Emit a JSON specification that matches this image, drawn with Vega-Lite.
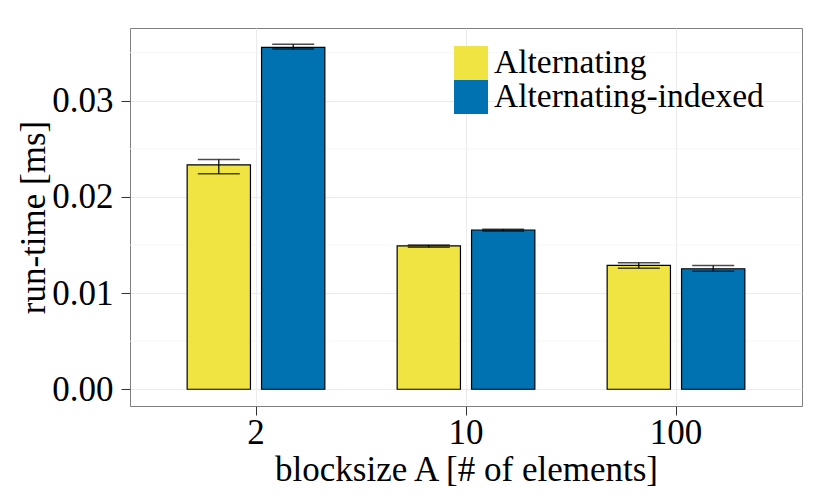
{
  "$schema": "https://vega.github.io/schema/vega-lite/v6.json",
  "autosize": {"type": "none"},
  "padding": {"left": 130, "top": 28, "right": 28, "bottom": 92},
  "width": 672,
  "height": 378,
  "config": {
    "font": "Liberation Serif",
    "view": {"stroke": "#7f7f7f", "strokeWidth": 1},
    "axis": {
      "labelFont": "Liberation Serif",
      "titleFont": "Liberation Serif",
      "labelColor": "black",
      "titleColor": "black",
      "labelFontSize": 35,
      "titleFontSize": 35,
      "titleFontWeight": "normal",
      "tickColor": "#333333",
      "tickSize": 9,
      "tickWidth": 1,
      "domain": false,
      "gridColor": "#ebebeb",
      "gridWidth": 1
    },
    "legend": {
      "labelFont": "Liberation Serif",
      "labelFontSize": 33.5,
      "labelColor": "black",
      "labelLimit": 0
    }
  },
  "datasets": {
    "bars": [
      {"block": "2", "series": "Alternating", "mean": 0.02333, "lo": 0.02240, "hi": 0.02389},
      {"block": "2", "series": "Alternating-indexed", "mean": 0.03555, "lo": 0.03538, "hi": 0.03586},
      {"block": "10", "series": "Alternating", "mean": 0.01490, "lo": 0.01476, "hi": 0.01500},
      {"block": "10", "series": "Alternating-indexed", "mean": 0.01656, "lo": 0.01646, "hi": 0.01663},
      {"block": "100", "series": "Alternating", "mean": 0.01288, "lo": 0.01257, "hi": 0.01316},
      {"block": "100", "series": "Alternating-indexed", "mean": 0.01253, "lo": 0.01226, "hi": 0.01288}
    ],
    "minor": [{"v": 0.005}, {"v": 0.015}, {"v": 0.025}, {"v": 0.035}]
  },
  "layer": [
    {
      "data": {"name": "minor"},
      "mark": {"type": "rule", "color": "#f4f4f4", "strokeWidth": 0.8},
      "encoding": {
        "y": {"field": "v", "type": "quantitative", "scale": {"domain": [-0.00174, 0.03756], "nice": false, "zero": false}}
      }
    },
    {
      "data": {"name": "bars"},
      "layer": [
        {
          "mark": {"type": "bar", "stroke": "black", "strokeWidth": 1.2},
          "encoding": {
            "x": {"field": "block", "type": "nominal", "sort": ["2", "10", "100"],
                  "scale": {"paddingInner": 0, "paddingOuter": 0.1},
                  "axis": {"title": "blocksize A [# of elements]", "labelAngle": 0, "grid": true, "labelPadding": 0, "titlePadding": 2}},
            "xOffset": {"field": "series", "type": "nominal", "sort": ["Alternating", "Alternating-indexed"],
                        "scale": {"paddingInner": 0.149, "paddingOuter": 0.486}},
            "y": {"field": "mean", "type": "quantitative",
                  "scale": {"domain": [-0.00174, 0.03756], "nice": false, "zero": false},
                  "axis": {"title": "run-time [ms]", "values": [0, 0.01, 0.02, 0.03], "format": ".2f", "grid": true, "labelPadding": 8, "titlePadding": 0}},
            "y2": {"datum": 0},
            "color": {"field": "series", "type": "nominal",
                      "scale": {"domain": ["Alternating", "Alternating-indexed"], "range": ["#F0E442", "#0072B2"]},
                      "legend": {"title": null, "orient": "none", "legendX": 324, "legendY": 18,
                                 "symbolType": "square", "symbolSize": 1156, "symbolStrokeWidth": 0,
                                 "symbolOpacity": 1, "rowPadding": 0, "labelOffset": 6, "padding": 0}}
          }
        },
        {
          "mark": {"type": "rule", "color": "black", "strokeWidth": 1.2},
          "encoding": {
            "x": {"field": "block", "type": "nominal", "sort": ["2", "10", "100"]},
            "xOffset": {"field": "series", "type": "nominal", "sort": ["Alternating", "Alternating-indexed"]},
            "y": {"field": "lo", "type": "quantitative"},
            "y2": {"field": "hi"}
          }
        },
        {
          "mark": {"type": "tick", "color": "black", "orient": "horizontal", "size": 42, "thickness": 1.5},
          "encoding": {
            "x": {"field": "block", "type": "nominal", "sort": ["2", "10", "100"]},
            "xOffset": {"field": "series", "type": "nominal", "sort": ["Alternating", "Alternating-indexed"]},
            "y": {"field": "lo", "type": "quantitative"}
          }
        },
        {
          "mark": {"type": "tick", "color": "black", "orient": "horizontal", "size": 42, "thickness": 1.5},
          "encoding": {
            "x": {"field": "block", "type": "nominal", "sort": ["2", "10", "100"]},
            "xOffset": {"field": "series", "type": "nominal", "sort": ["Alternating", "Alternating-indexed"]},
            "y": {"field": "hi", "type": "quantitative"}
          }
        }
      ]
    }
  ]
}
